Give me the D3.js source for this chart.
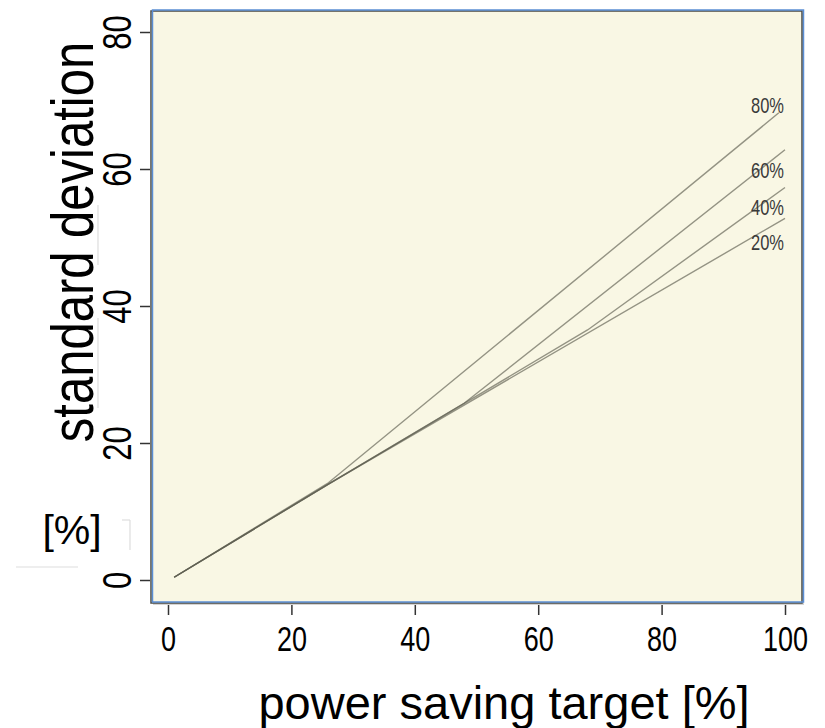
<!DOCTYPE html>
<html>
<head>
<meta charset="utf-8">
<script src="https://cdn.jsdelivr.net/npm/d3@7"></script>
<style>
  body { margin: 0; background: #fff; }
  text { font-family: "Liberation Sans", Arial, sans-serif; fill: #000; }
</style>
</head>
<body>
<div id="chart"></div>
<script>
// curve data: [power saving target, standard deviation]
const seriesNames = ["20%", "40%", "60%", "80%"];
const line20 = [[1, 0.4], [26, 14.0], [100, 52.8]];
const line40 = [[1, 0.4], [26, 14.0], [68, 36.5], [100, 57.3]];
const line60 = [[1, 0.4], [26, 14.0], [48, 25.8], [100, 62.8]];
const line80 = [[1, 0.4], [26, 14.2], [99, 68.2]];
const xTicks = [0, 20, 40, 60, 80, 100];
const yTicks = [0, 20, 40, 60, 80];

function init() {
    const width = 825, height = 728;

    const svg = d3.select("#chart")
        .append("svg")
        .attr("width", width)
        .attr("height", height);

    // scales (ticks sit a bit inside the frame, like R's default padding)
    const x = d3.scaleLinear().domain([0, 100]).range([168, 785]);
    const y = d3.scaleLinear().domain([0, 80]).range([580, 32]);

    // plot box
    const box = {left: 151, top: 11, right: 802, bottom: 603};
    svg.append("rect")
        .attr("x", box.left + 2).attr("y", box.top + 2)
        .attr("width", box.right - box.left).attr("height", box.bottom - box.top)
        .attr("fill", "#aaa").attr("opacity", 0.5);
    svg.append("rect")
        .attr("x", box.left).attr("y", box.top)
        .attr("width", box.right - box.left).attr("height", box.bottom - box.top)
        .attr("fill", "#f9f7e4")
        .attr("stroke", "#4a4a44").attr("stroke-width", 1.5);
    svg.append("rect")
        .attr("x", box.left + 1.5).attr("y", box.top - 1)
        .attr("width", box.right - box.left).attr("height", box.bottom - box.top)
        .attr("fill", "none")
        .attr("stroke", "#5b8ed4").attr("stroke-width", 1.5);

    // axes; the glyphs in the original are tall and narrow, so stretch them
    const xAxis = svg.append("g")
        .attr("transform", `translate(0,${box.bottom + 2})`)
        .call(d3.axisBottom(x).tickValues(xTicks).tickSize(10));
    xAxis.select(".domain").remove();
    xAxis.selectAll("line").attr("stroke", "#333").attr("stroke-width", 1.5);
    xAxis.selectAll("text")
        .style("font-size", "27px")
        .attr("y", 0).attr("dy", 0)
        .attr("transform", "translate(0,46) scale(1,1.3)");

    const yAxis = svg.append("g")
        .attr("transform", `translate(${box.left - 1},0)`)
        .call(d3.axisLeft(y).tickValues(yTicks).tickSize(10));
    yAxis.select(".domain").remove();
    yAxis.selectAll("line").attr("stroke", "#333").attr("stroke-width", 1.5);
    yAxis.selectAll("text")
        .style("font-size", "31px")
        .attr("text-anchor", "middle")
        .attr("x", 0).attr("y", 0).attr("dy", 0)
        .attr("transform", "translate(-19,0) rotate(-90) scale(1,1.3)");

    // curves
    const line = d3.line().x(d => x(d[0])).y(d => y(d[1]));
    const all = [line20, line40, line60, line80];
    svg.append("g")
        .selectAll("path")
        .data(all)
        .join("path")
        .attr("d", line)
        .attr("fill", "none")
        .attr("stroke", "#5d5d50")
        .attr("stroke-opacity", 0.65)
        .attr("stroke-width", 1.4);

    // series labels at the right end of each curve
    const labelY = {"20%": 250, "40%": 215, "60%": 178, "80%": 113};
    svg.append("g")
        .selectAll("text")
        .data(seriesNames)
        .join("text")
        .attr("transform", d => `translate(784,${labelY[d]}) scale(1,1.3)`)
        .attr("text-anchor", "end")
        .style("font-size", "16.5px")
        .style("fill", "#3a3a3a")
        .text(d => d);

    // axis titles
    svg.append("text")
        .attr("transform", "translate(504,719)")
        .attr("text-anchor", "middle")
        .style("font-size", "47px")
        .text("power saving target [%]");

    svg.append("text")
        .attr("transform", "translate(93,242) rotate(-90) scale(1,1.2)")
        .attr("text-anchor", "middle")
        .style("font-size", "49px")
        .text("standard deviation");

    svg.append("text")
        .attr("x", 72).attr("y", 544)
        .attr("text-anchor", "middle")
        .style("font-size", "41px")
        .text("[%]");

    // faint leftover strokes from the original figure
    const faint = [[98, 205, 98, 265], [98, 318, 98, 408], [16, 567, 78, 567],
                   [122, 520, 130, 520], [130, 520, 130, 550]];
    svg.append("g")
        .selectAll("line")
        .data(faint)
        .join("line")
        .attr("x1", d => d[0]).attr("y1", d => d[1])
        .attr("x2", d => d[2]).attr("y2", d => d[3])
        .attr("stroke", "#ddd").attr("stroke-width", 1.2);
}

window.onload = init;
</script>
</body>
</html>
